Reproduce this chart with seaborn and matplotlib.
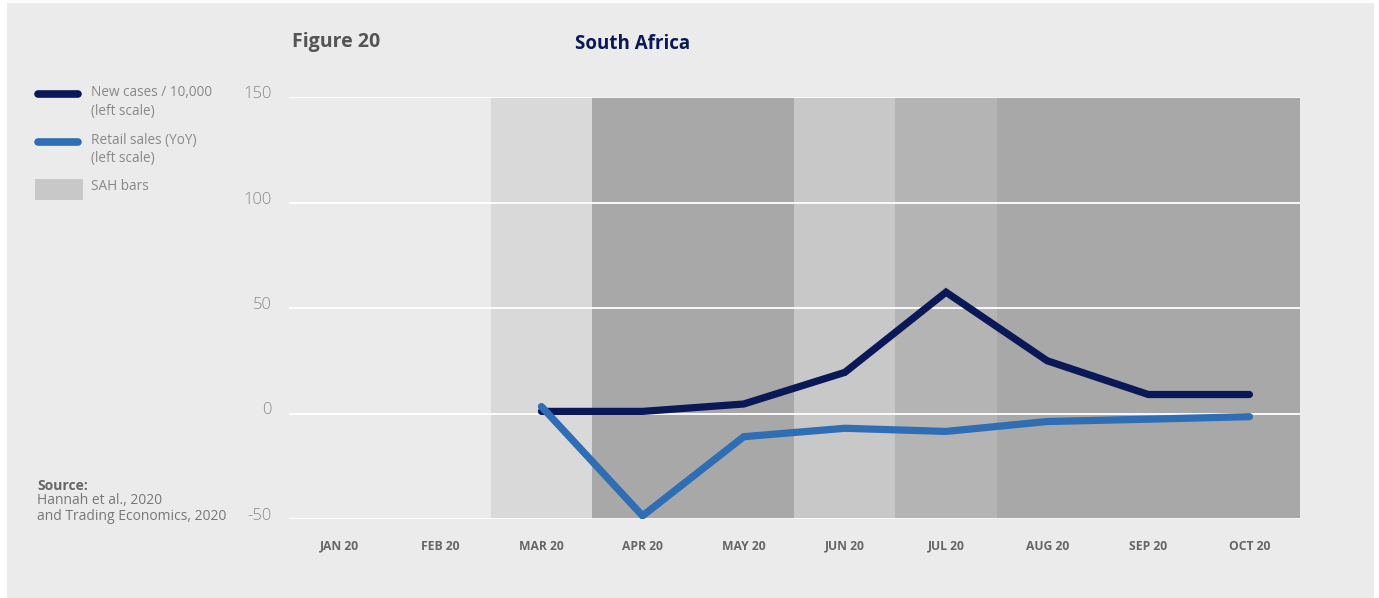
import matplotlib
matplotlib.use("Agg")
import matplotlib.pyplot as plt
from matplotlib.lines import Line2D
from matplotlib.patches import Rectangle
from matplotlib.transforms import ScaledTranslation
import numpy as np
import pandas as pd
import seaborn as sns

# ---- data -------------------------------------------------------------
months = ["JAN 20", "FEB 20", "MAR 20", "APR 20", "MAY 20",
          "JUN 20", "JUL 20", "AUG 20", "SEP 20", "OCT 20"]
series_months = ["MAR 20", "APR 20", "MAY 20", "JUN 20",
                 "JUL 20", "AUG 20", "SEP 20", "OCT 20"]
new_cases = [1, 1, 4.5, 19.5, 57.5, 25, 9, 9]          # per 10,000
retail_sales = [3.3, -48.5, -11, -7, -8.5, -3.8, -2.7, -1.5]  # YoY %
# stay-at-home stringency level per month (0 = none)
sah_level = [0, 0, 1, 4, 4, 2, 3, 4, 4, 4]
yticks = [-50, 0, 50, 100, 150]

# ---- styling ----------------------------------------------------------
sns.set_theme(style="white")
plt.rcParams["font.family"] = ["Open Sans", "DejaVu Sans"]

BG = "#ebebeb"
NAVY = "#0b1858"
BLUE = "#2f6db5"
band_colors = {1: "#d9d9d9", 2: "#c8c8c8", 3: "#b4b4b4", 4: "#a8a8a8"}

W, H = 1379, 598
fig = plt.figure(figsize=(W / 100, H / 100), dpi=100, facecolor="white")
fig.add_artist(Rectangle((7 / W, 0), (1374 - 7) / W, 1 - 3 / H,
                         transform=fig.transFigure, facecolor=BG,
                         edgecolor="none", zorder=-10))

ax = fig.add_axes([288.6 / W, 1 - 519 / H, (1300 - 288.6) / W, (519 - 97) / H])
ax.set_facecolor(BG)
ax.patch.set_alpha(0)

# stay-at-home bands
for i, lvl in enumerate(sah_level):
    if lvl:
        ax.axvspan(i - 0.5, i + 0.5, color=band_colors[lvl], lw=0, zorder=0)

# horizontal guides
for v in yticks:
    ax.axhline(v, color="white", lw=1.3, zorder=1)

df = pd.DataFrame({
    "pos": [months.index(m) for m in series_months],
    "new_cases": new_cases,
    "retail_sales": retail_sales,
})
sns.lineplot(data=df, x="pos", y="new_cases", ax=ax, color=NAVY, lw=5.2,
             solid_capstyle="round", solid_joinstyle="miter", zorder=3)
sns.lineplot(data=df, x="pos", y="retail_sales", ax=ax, color=BLUE, lw=5.2,
             solid_capstyle="round", solid_joinstyle="miter", zorder=4)

ax.set_xlim(-0.5, len(months) - 0.5)
ax.set_ylim(-50, 150)
ax.set_xticks(range(len(months)))
ax.set_xticklabels(months, fontsize=8.7, fontweight="bold", color="#666666")
ax.set_yticks(yticks)
ax.set_yticklabels([str(v) for v in yticks], fontsize=12, color="#8a8a8a",
                   fontweight="light")
ax.tick_params(axis="x", length=0, pad=15)
ax.tick_params(axis="y", length=0, pad=12)
for lab in ax.get_yticklabels():
    lab.set_transform(lab.get_transform() + ScaledTranslation(0, 0.05, fig.dpi_scale_trans))
ax.set_xlabel("")
ax.set_ylabel("")
for s in ax.spines.values():
    s.set_visible(False)

# titles
fig.text(292 / W, 1 - 42 / H, "Figure 20", fontsize=14, fontweight="bold",
         color="#555555", ha="left", va="center")
fig.text(575 / W, 1 - 44 / H, "South Africa", fontsize=13.5, fontweight="bold",
         color=NAVY, ha="left", va="center")

# legend
legend_grey = "#888888"
fig.add_artist(Line2D([38 / W, 78 / W], [1 - 94 / H, 1 - 94 / H], color=NAVY,
                      lw=5.5, solid_capstyle="round", transform=fig.transFigure))
fig.add_artist(Line2D([38 / W, 78 / W], [1 - 142 / H, 1 - 142 / H], color=BLUE,
                      lw=5.5, solid_capstyle="round", transform=fig.transFigure))
fig.add_artist(Rectangle((35 / W, 1 - 200 / H), 48 / W, 21 / H, facecolor="#c8c8c8",
                         edgecolor="none", transform=fig.transFigure))
fig.text(91 / W, 1 - 93 / H, "New cases / 10,000", fontsize=9.8, color=legend_grey,
         ha="left", va="center")
fig.text(91 / W, 1 - 112 / H, "(left scale)", fontsize=9.8, color=legend_grey,
         ha="left", va="center")
fig.text(91 / W, 1 - 140 / H, "Retail sales (YoY)", fontsize=9.8, color=legend_grey,
         ha="left", va="center")
fig.text(91 / W, 1 - 159 / H, "(left scale)", fontsize=9.8, color=legend_grey,
         ha="left", va="center")
fig.text(91 / W, 1 - 187 / H, "SAH bars", fontsize=9.8, color=legend_grey,
         ha="left", va="center")

# source note
fig.text(37 / W, 1 - 486 / H, "Source:", fontsize=10, fontweight="bold",
         color="#666666", ha="left", va="center")
fig.text(37 / W, 1 - 501 / H, "Hannah et al., 2020", fontsize=10,
         color="#777777", ha="left", va="center")
fig.text(37 / W, 1 - 517 / H, "and Trading Economics, 2020", fontsize=10,
         color="#777777", ha="left", va="center")

fig.savefig("out.png", dpi=100, facecolor="white")
